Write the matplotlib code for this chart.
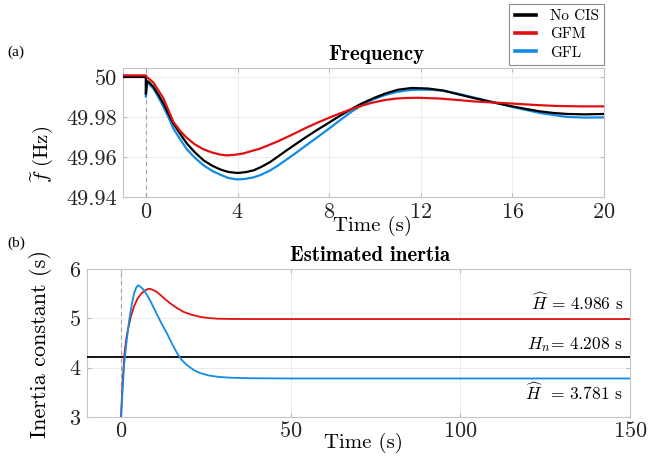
#!/usr/bin/env python3

"""
Frequency response and estimated inertia, no CIS / GFM / GFL
"""

import matplotlib
matplotlib.use('Agg')
import matplotlib.pyplot as plt
from matplotlib.lines import Line2D

# ---- (a) frequency ----
black_t = [-1, 0, 0, 0.05, 0.15, 0.33, 0.55, 0.77, 1.0, 1.2, 1.5, 1.79, 2.15,
           2.52, 2.9, 3.24, 3.6, 4.0, 4.35, 4.7, 5.05, 5.43, 5.75, 6.08, 6.5,
           6.96, 7.5, 8.0, 8.5, 9.0, 9.43, 10.0, 10.45, 11.0, 11.6, 12.34, 13.0,
           13.5, 14.3, 15.2, 16.0, 16.6, 17.2, 17.8, 18.4, 19.2, 20]
black_f = [50.0, 50.0, 49.9915, 49.998, 49.9972, 49.995, 49.991, 49.9867,
           49.9812, 49.9767, 49.9715, 49.9667, 49.9622, 49.9583, 49.9556,
           49.9538, 49.9525, 49.952, 49.9524, 49.9533, 49.9551, 49.9575,
           49.9601, 49.9628, 49.9661, 49.9697, 49.9737, 49.9772, 49.9808,
           49.9841, 49.9868, 49.9897, 49.9917, 49.9936, 49.9945, 49.9942,
           49.9932, 49.9917, 49.9895, 49.9872, 49.9853, 49.984, 49.9828,
           49.982, 49.9815, 49.9813, 49.9815]

red_t = [-1, 0, 0.04, 0.33, 0.77, 1.2, 1.5, 1.79, 2.15, 2.52, 2.9, 3.24, 3.54,
         3.9, 4.26, 4.99, 5.72, 6.08, 6.5, 6.96, 7.5, 8.0, 8.5, 9.0, 9.5, 9.87,
         10.4, 10.9, 11.4, 11.9, 12.85, 13.6, 14.3, 15.2, 16.0, 17.0, 17.95,
         19.0, 20]
red_f = [50.0008, 50.0008, 50.0, 49.9972, 49.9892, 49.9775, 49.973, 49.9695,
         49.9662, 49.9638, 49.9622, 49.9612, 49.9608, 49.9611, 49.9618,
         49.9642, 49.9676, 49.9695, 49.9718, 49.9744, 49.9772, 49.9796,
         49.9819, 49.984, 49.9859, 49.9871, 49.9884, 49.9892, 49.9895,
         49.9896, 49.9892, 49.9885, 49.9878, 49.9872, 49.9867, 49.986,
         49.9855, 49.9853, 49.9853]

blue_t = [-1, 0, 0, 0.05, 0.33, 0.55, 0.77, 1.0, 1.2, 1.5, 1.79, 2.15, 2.52,
          2.9, 3.24, 3.6, 3.97, 4.3, 4.7, 5.05, 5.43, 5.75, 6.08, 6.5, 6.96,
          7.5, 8.0, 8.5, 9.0, 9.5, 9.87, 10.4, 10.9, 11.4, 11.9, 12.4, 12.9,
          13.5, 14.3, 15.2, 16.0, 16.6, 17.2, 17.8, 18.4, 19.2, 20]
blue_f = [50.0, 50.0, 49.990, 49.9975, 49.9942, 49.9898, 49.985, 49.9795,
          49.9742, 49.9688, 49.9638, 49.9595, 49.9558, 49.953, 49.9512,
          49.9495, 49.9488, 49.949, 49.9498, 49.9512, 49.9533, 49.9556,
          49.9582, 49.9616, 49.9655, 49.97, 49.9742, 49.9786, 49.9828,
          49.9864, 49.9885, 49.9908, 49.9924, 49.9933, 49.9937, 49.9936,
          49.9932, 49.992, 49.9898, 49.9873, 49.985, 49.9835, 49.982, 49.981,
          49.98, 49.9797, 49.9798]

# ---- (b) estimated inertia ----
nominal_t = [-10, 150]
nominal_h = [4.208, 4.208]

gfm_t = [0, 0.5, 1.0, 1.5, 2.0, 2.9, 3.9, 4.9, 6.0, 7.0, 7.8, 8.5, 9.3, 10.5,
         11.7, 13.0, 14.6, 16.5, 18.5, 21, 23.4, 26, 28.3, 32, 40, 150]
gfm_h = [2.95, 3.7, 4.25, 4.55, 4.75, 5.03, 5.25, 5.40, 5.50, 5.56, 5.59,
         5.60, 5.58, 5.54, 5.47, 5.39, 5.30, 5.21, 5.13, 5.07, 5.03, 5.005,
         4.993, 4.988, 4.986, 4.986]

gfl_t = [0, 0.5, 0.97, 1.7, 2.44, 3.2, 3.9, 4.5, 5.07, 5.8, 6.82, 7.8, 8.77,
         9.7, 10.7, 12.1, 13.6, 15.1, 16.6, 18, 19.5, 21.5, 23.4, 26, 29.2,
         33, 38, 50, 150]
gfl_h = [2.95, 3.55, 4.08, 4.55, 4.96, 5.28, 5.51, 5.62, 5.67, 5.64, 5.57,
         5.46, 5.34, 5.21, 5.07, 4.88, 4.69, 4.48, 4.29, 4.15, 4.05, 3.95,
         3.89, 3.84, 3.81, 3.795, 3.786, 3.781, 3.781]

freq_xticks = [0, 4, 8, 12, 16, 20]
freq_yticks = [49.94, 49.96, 49.98, 50.0]
freq_yticklabels = ['49.94', '49.96', '49.98', '50']
inertia_xticks = [0, 50, 100, 150]
inertia_yticks = [3, 4, 5, 6]

labels = ['No CIS', 'GFM', 'GFL']
colors = ['#000000', '#e01010', '#128be6']


def style(ax):
    for sp in ax.spines.values():
        sp.set_color('#c4c4c4')
        sp.set_linewidth(0.8)
    ax.tick_params(direction='in', length=3, color='#b8b8b8',
                   labelcolor='#262626', labelsize=16, top=True, right=True)
    ax.grid(True, color='#ececec', linewidth=0.7)
    ax.set_axisbelow(True)


def execute():
    plt.rcParams['font.family'] = 'serif'
    plt.rcParams['font.serif'] = ['cmr10']
    plt.rcParams['mathtext.fontset'] = 'cm'
    plt.rcParams['axes.formatter.use_mathtext'] = True

    fig = plt.figure(figsize=(6.49, 4.58), dpi=100)

    # (a) frequency
    ax1 = fig.add_axes([0.1895, 0.5699, 0.7411, 0.2817])
    style(ax1)
    ax1.axvline(0, color='#a0a0a0', linestyle=(0, (4, 3)), linewidth=0.8)
    ax1.plot(black_t, black_f, color=colors[0], lw=1.6, zorder=3)
    ax1.plot(blue_t, blue_f, color=colors[2], lw=1.6, zorder=2)
    ax1.plot(red_t, red_f, color=colors[1], lw=1.6, zorder=4)
    ax1.set_xlim(-1, 20)
    ax1.set_ylim(49.94, 50.0045)
    ax1.set_xticks(freq_xticks)
    ax1.set_yticks(freq_yticks)
    ax1.set_yticklabels(freq_yticklabels)
    ax1.tick_params(axis='x', pad=4)
    ax1.tick_params(axis='y', pad=4)
    ax1.set_title('Frequency', fontfamily='cmb10', fontsize=15, pad=6,
                  x=0.526)
    ax1.set_xlabel('Time (s)', fontsize=15)
    ax1.xaxis.set_label_coords(0.518, -0.15)
    ax1.set_ylabel(r'$\widetilde{f}\ (\mathrm{Hz})$', fontsize=15)
    ax1.yaxis.set_label_coords(-0.142, 0.33)

    # (b) estimated inertia
    ax2 = fig.add_axes([0.134, 0.0895, 0.8367, 0.3231])
    style(ax2)
    ax2.axvline(0, color='#a0a0a0', linestyle=(0, (4, 3)), linewidth=0.8)
    ax2.plot(nominal_t, nominal_h, color=colors[0], lw=1.3, zorder=3)
    ax2.plot(gfm_t, gfm_h, color=colors[1], lw=1.3, zorder=3)
    ax2.plot(gfl_t, gfl_h, color=colors[2], lw=1.3, zorder=4)
    ax2.set_xlim(-10, 150)
    ax2.set_ylim(3, 6)
    ax2.set_xticks(inertia_xticks)
    ax2.set_yticks(inertia_yticks)
    ax2.tick_params(axis='x', pad=3)
    ax2.tick_params(axis='y', pad=4)
    ax2.set_title('Estimated inertia', fontfamily='cmb10', fontsize=15,
                  pad=6, x=0.521)
    ax2.set_xlabel('Time (s)', fontsize=15)
    ax2.xaxis.set_label_coords(0.51, -0.105)
    ax2.set_ylabel('Inertia constant (s)', fontsize=16)
    ax2.yaxis.set_label_coords(-0.065, 0.49)

    ax2.text(148, gfm_h[-1] + 0.13, r'$\widehat{H}\,=\,4.986$ s',
             fontsize=12.5, ha='right', va='bottom')
    ax2.text(148, nominal_h[-1] + 0.07, r'$H_n\!=\,4.208$ s', fontsize=12.5,
             ha='right', va='bottom')
    ax2.text(148, gfl_h[-1] - 0.06, r'$\widehat{H}\ \,=\,3.781$ s',
             fontsize=12.5, ha='right', va='top')

    fig.text(16 / 649, 1 - 52 / 458, '(a)', fontfamily='Liberation Serif',
             fontsize=11, ha='center', va='center')
    fig.text(16 / 649, 1 - 243 / 458, '(b)', fontfamily='Liberation Serif',
             fontsize=11, ha='center', va='center')

    handles = [Line2D([], [], color=c, lw=2.6) for c in colors]
    leg = fig.legend(handles, labels, loc='upper right',
                     bbox_to_anchor=(604 / 649, 1 - 4 / 458),
                     borderaxespad=0, fontsize=11, handlelength=1.4,
                     handletextpad=0.9, labelspacing=0.3, borderpad=0.35,
                     fancybox=False, framealpha=1)
    leg.get_frame().set_edgecolor('#8c8c8c')
    leg.get_frame().set_linewidth(0.8)

    fig.savefig('out.png', dpi=100)


if __name__ == '__main__':
    execute()
